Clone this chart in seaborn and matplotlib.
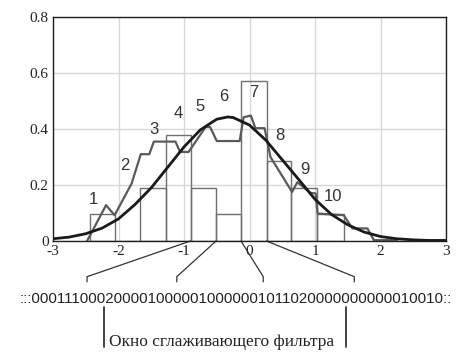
import numpy as np
import pandas as pd
import seaborn as sns
import matplotlib
matplotlib.use('Agg')
import matplotlib.pyplot as plt
from matplotlib import font_manager

# histogram bins (edges) and bar heights
bin_edges = [-2.44, -2.05, -1.67, -1.28, -0.90, -0.51, -0.13, 0.26, 0.64, 1.03, 1.45]
bar_heights = [0.095, 0.0, 0.19, 0.38, 0.19, 0.095, 0.57, 0.285, 0.19, 0.095]

# fitted normal curve, read at 0.25 steps
gauss_x = [-3.0, -2.75, -2.5, -2.25, -2.0, -1.75, -1.5, -1.25, -1.0, -0.75, -0.5, -0.33,
           -0.25, 0.0, 0.25, 0.5, 0.75, 1.0, 1.25, 1.5, 1.75, 2.0, 2.25, 2.5, 2.75, 3.0]
gauss_y = [0.008, 0.014, 0.026, 0.046, 0.079, 0.13, 0.19, 0.263, 0.336, 0.397, 0.435, 0.443,
           0.441, 0.414, 0.36, 0.29, 0.22, 0.149, 0.095, 0.058, 0.032, 0.016, 0.008, 0.004, 0.002, 0.002]

# smoothed (moving window) estimate
smooth_x = [-2.48, -2.19, -2.06, -1.80, -1.66, -1.53, -1.46, -1.13, -1.06, -0.93, -0.67, -0.60,
            -0.50, -0.15, -0.09, 0.02, 0.09, 0.23, 0.32, 0.65, 0.73, 0.93, 1.01, 1.04, 1.44,
            1.57, 1.80, 1.90, 2.25]
smooth_y = [0.0, 0.128, 0.092, 0.205, 0.31, 0.31, 0.355, 0.355, 0.318, 0.318, 0.407, 0.407,
            0.357, 0.357, 0.442, 0.448, 0.403, 0.403, 0.30, 0.175, 0.21, 0.172, 0.17, 0.098, 0.092,
            0.045, 0.045, 0.003, 0.003]

# number labels 1..10
lab_text = ['1', '2', '3', '4', '5', '6', '7', '8', '9', '10']
lab_x = [-2.38, -1.90, -1.46, -1.09, -0.75, -0.40, 0.07, 0.46, 0.84, 1.27]
lab_y = [0.149, 0.27, 0.399, 0.457, 0.48, 0.517, 0.531, 0.378, 0.255, 0.16]

xticks = [-3, -2, -1, 0, 1, 2, 3]
yticks = [0, 0.2, 0.4, 0.6, 0.8]
ytick_labels = ['0', '0.2', '0.4', '0.6', '0.8']

code_string = ':::' + '0001110002000010000010000001011020000000000010010' + '::'
caption = 'Окно сглаживающего фильтра'

# where the four connectors land on the code string (data x) and the window edges
conn_to = [-2.48, -1.11, 0.21, 1.60]
window_x = [-2.22, 1.47]

sns.set_style('white')

fig = plt.figure(figsize=(4.74, 3.64), dpi=100)
ax = fig.add_axes([53 / 474, 1 - 241 / 364, 393 / 474, 224 / 364])

centers = [(bin_edges[i] + bin_edges[i + 1]) / 2 for i in range(len(bar_heights))]
hist_df = pd.DataFrame({'x': centers, 'w': bar_heights})
sns.histplot(data=hist_df, x='x', weights='w', bins=bin_edges, stat='count',
             fill=False, element='bars', color='#707070', linewidth=1.0, ax=ax)

sns.lineplot(x=smooth_x, y=smooth_y, sort=False, estimator=None, color='#5a5a5a',
             linewidth=1.6, ax=ax)
sns.lineplot(x=gauss_x, y=gauss_y, sort=False, estimator=None, color='#1a1a1a',
             linewidth=2.0, ax=ax)

for t, x, y in zip(lab_text, lab_x, lab_y):
    ax.text(x, y, t, ha='center', va='center', fontsize=12, color='#333333',
            family='Liberation Sans')

ax.set_xlim(-3, 3)
ax.set_ylim(0, 0.8)
ax.set_xticks(xticks)
ax.set_xticklabels([str(v) for v in xticks])
ax.set_yticks(yticks)
ax.set_yticklabels(ytick_labels)
ax.set_xlabel('')
ax.set_ylabel('')
ax.grid(True, color='#d8d8d8', linewidth=1.0)
ax.set_axisbelow(True)
for s in ax.spines.values():
    s.set_color('#202020')
    s.set_linewidth(1.0)
ax.tick_params(length=0, labelsize=11, colors='#222222', pad=3)
for lbl in ax.get_xticklabels() + ax.get_yticklabels():
    lbl.set_family('Liberation Serif')

# connectors from bin edges down to the code string
y_top = -0.1275
y_tick = -0.146
for e, t in zip(bin_edges[4:8], conn_to):
    ax.plot([e, t, t], [0, y_top, y_tick], color='#333333', linewidth=0.9, clip_on=False)

# window of the smoothing filter
for wx in window_x:
    ax.plot([wx, wx], [-0.236, -0.379], color='#222222', linewidth=1.2, clip_on=False)

names = {f.name for f in font_manager.fontManager.ttflist}
if 'Liberation Sans Narrow' in names:
    code_family, code_size = 'Liberation Sans Narrow', 13.2
else:
    code_family, code_size = 'Liberation Sans', 10.8
fig.text(236 / 474, 1 - 303 / 364, code_string, ha='center', va='baseline',
         fontsize=code_size, family=code_family, color='#222222')

ax.text(-2.145, -0.375, caption, ha='left', va='baseline', fontsize=12.5,
        family='Liberation Serif', color='#222222', clip_on=False)

fig.savefig('out.png', dpi=100)
